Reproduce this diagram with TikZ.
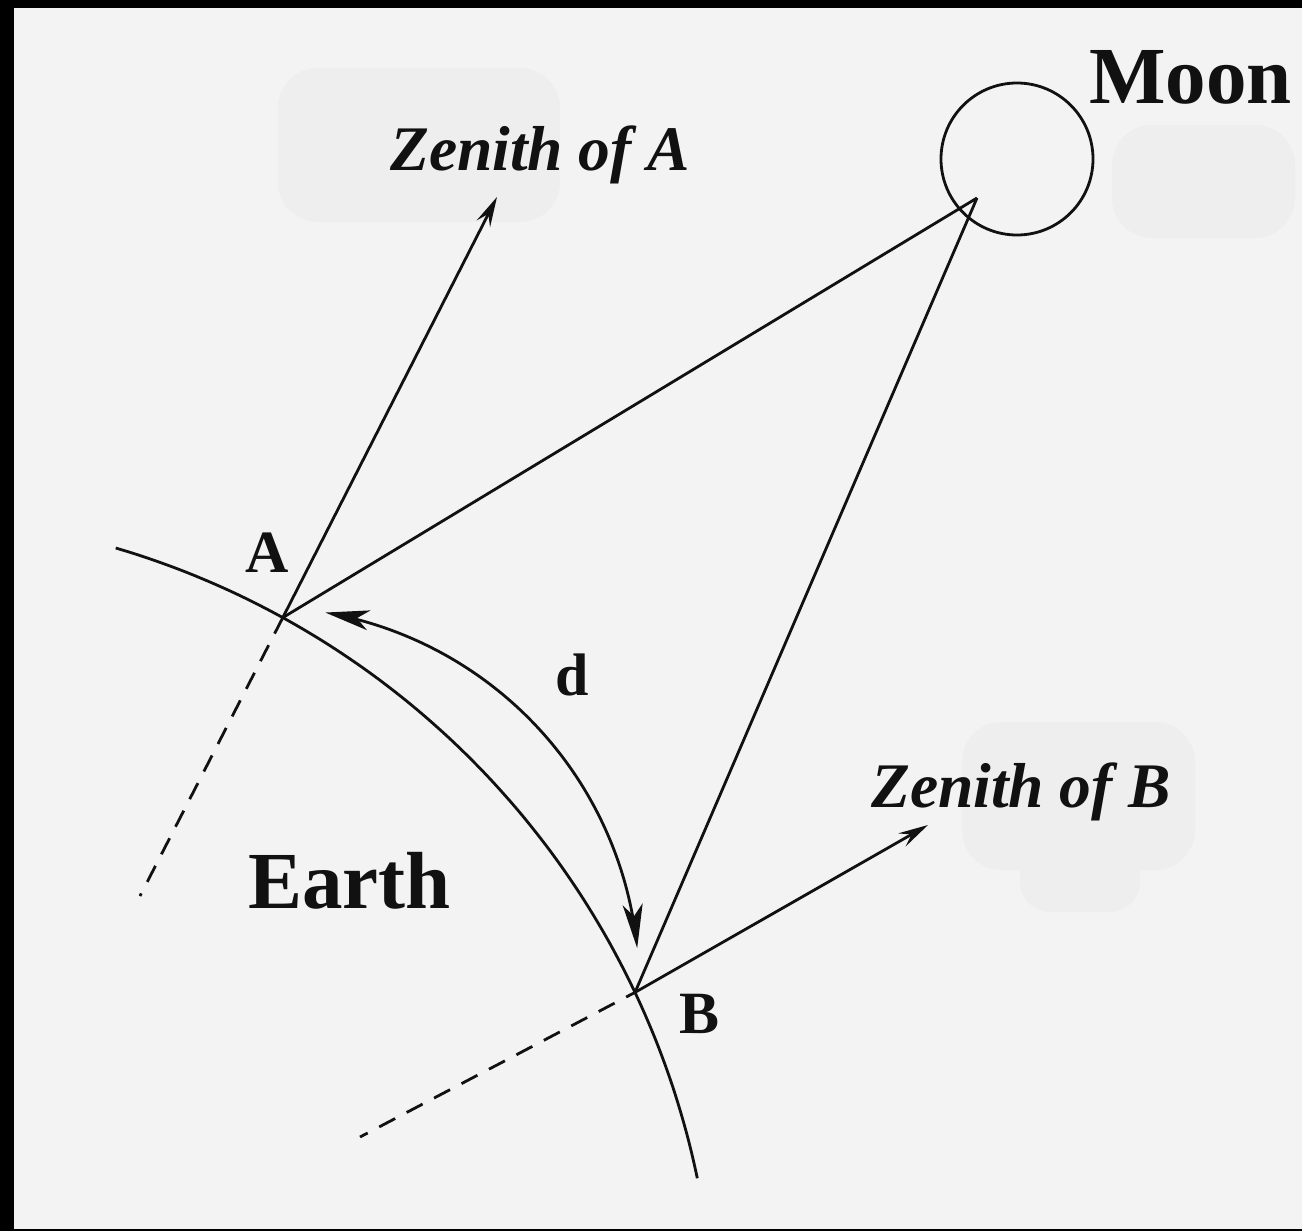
\documentclass[tikz,border=0pt]{standalone}
\usepackage{fontspec}
\setmainfont{Liberation Serif}
\usetikzlibrary{arrows.meta}
\definecolor{paper}{HTML}{F3F3F3}
\definecolor{blot}{HTML}{EEEEEE}
\definecolor{ink}{HTML}{111111}
\begin{document}
\begin{tikzpicture}[x=1pt,y=-1pt,
  ln/.style={draw=ink, line width=2.8pt},
  dsh/.style={draw=ink, line width=2.8pt, dash pattern=on 18pt off 13pt},
  zarrow/.style={ln, -{Stealth[length=30pt,width=15pt,inset=11pt]}},
  darrow/.style={ln, {Stealth[length=44pt,width=20pt,inset=12pt]}-{Stealth[length=44pt,width=20pt,inset=12pt]}},
  lbl/.style={inner sep=0pt, anchor=base west, text=ink, font=\fontsize{60}{70}\selectfont\bfseries},
  big/.style={lbl, font=\fontsize{81}{90}\selectfont\bfseries},
  zen/.style={lbl, font=\fontsize{63.5}{70}\selectfont\bfseries\itshape},
]
\useasboundingbox (0,0) rectangle (1302,1231);
% frame and paper
\fill[black] (0,0) rectangle (1302,1231);
\fill[paper] (14,8) rectangle (1302,1229);
% faint blots
\fill[blot, rounded corners=40pt] (278,68) rectangle (560,222);
\fill[blot, rounded corners=40pt] (1112,125) rectangle (1295,238);
\fill[blot, rounded corners=40pt] (962,722) rectangle (1195,870);
\fill[blot, rounded corners=30pt] (1020,840) rectangle (1140,912);

% Earth surface
\draw[ln] plot[domain=-73.6:-11.8, samples=80, smooth] ({-120+835*cos(\x)},{1349+835*sin(\x)});

% key points
\coordinate (A) at (282.8,617.6);
\coordinate (B) at (635,992.4);
\coordinate (ZA) at (497,197);
\coordinate (ZB) at (928,825);
\coordinate (M) at (977,198);
\coordinate (DA) at (140,896);
\coordinate (DB) at (360,1137);

% Moon
\node[circle, draw=ink, line width=2.8pt, minimum size=152pt, inner sep=0pt] (moon) at (1017,159) {};

% zenith arrows
\draw[zarrow] (A) -- (ZA);
\draw[zarrow] (B) -- (ZB);
% lines to moon
\draw[ln] (A) -- (M);
\draw[ln] (B) -- (M);
% dashed radii
\draw[dsh] (A) -- (DA);
\draw[dsh, dash phase=8pt] (B) -- (DB);

% arc distance d
\draw[darrow] plot[domain=-80.2:-5.6, samples=60, smooth] ({261+378*cos(\x)},{985+378*sin(\x)});

% labels
\node[big] (moonlbl) at (1089,103) {Moon};
\node[zen] (zenA) at (390,170) {Zenith of A};
\node[zen] (zenB) at (871,807) {Zenith of B};
\node[lbl] (lA) at (245,572) {A};
\node[lbl] (lB) at (679,1033) {B};
\node[lbl] (ld) at (555,695) {d};
\node[big] (earth) at (248,908) {Earth};
\end{tikzpicture}
\end{document}
